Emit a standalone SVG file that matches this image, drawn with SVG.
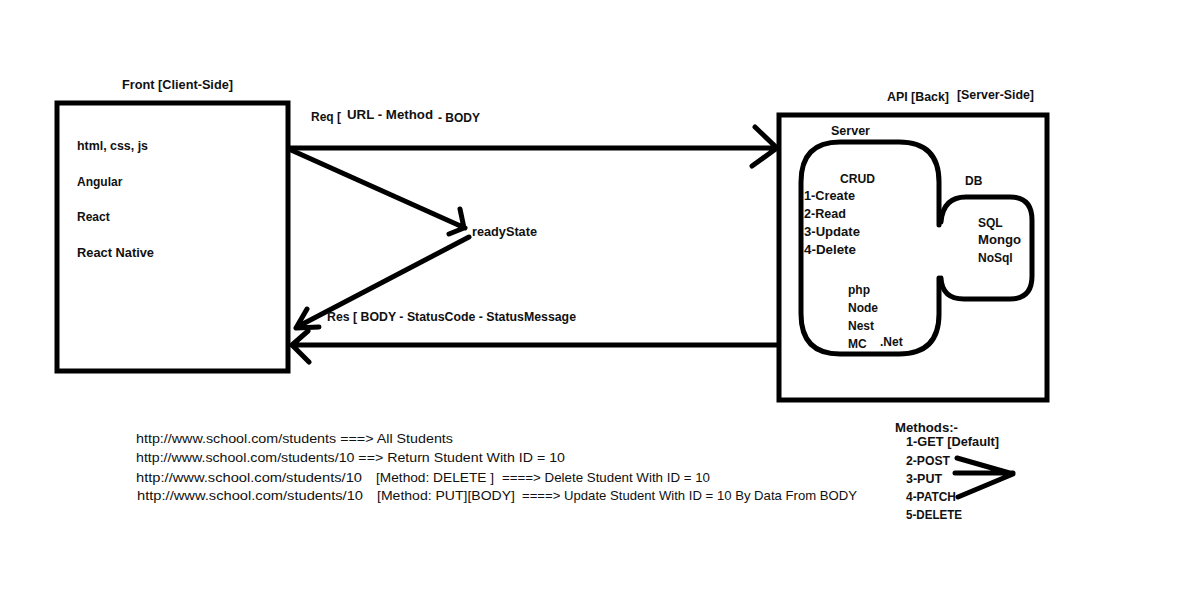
<svg xmlns="http://www.w3.org/2000/svg" width="1177" height="603" viewBox="0 0 1177 603">
<style>
.b{font-family:"Liberation Sans",Arial,sans-serif;font-size:12px;font-weight:bold;fill:#111}
.r{font-family:"Liberation Sans",Arial,sans-serif;font-size:13px;fill:#111}
.box{fill:none;stroke:#000;stroke-width:5}
.ln{fill:none;stroke:#000;stroke-width:5;stroke-linecap:round;stroke-linejoin:round}
</style>
<rect width="1177" height="603" fill="#fff"/>
<g id="front">
<rect class="box" x="57" y="103" width="231" height="268"/>
<text class="b" x="122" y="89" textLength="111" lengthAdjust="spacingAndGlyphs">Front [Client-Side]</text>
<text class="b" x="77" y="150" textLength="71" lengthAdjust="spacingAndGlyphs">html, css, js</text>
<text class="b" x="77" y="186">Angular</text>
<text class="b" x="77" y="221">React</text>
<text class="b" x="77" y="257" textLength="77" lengthAdjust="spacingAndGlyphs">React Native</text>
</g>
<g id="api">
<rect class="box" x="779" y="115" width="268" height="285"/>
<text class="b" x="887" y="101" textLength="62" lengthAdjust="spacingAndGlyphs">API [Back]</text>
<text class="b" x="957" y="99" textLength="77" lengthAdjust="spacingAndGlyphs">[Server-Side]</text>
</g>
<g id="server">
<path class="ln" d="M939 225 V182 Q939 142 899 142 H840 Q801 142 801 182 V314 Q801 354 840 354 H899 Q939 354 939 314 V278"/>
<text class="b" x="831" y="135" textLength="39" lengthAdjust="spacingAndGlyphs">Server</text>
<text class="b" x="840" y="183" textLength="35" lengthAdjust="spacingAndGlyphs">CRUD</text>
<text class="b" x="804" y="200" textLength="51" lengthAdjust="spacingAndGlyphs">1-Create</text>
<text class="b" x="804" y="218" textLength="42" lengthAdjust="spacingAndGlyphs">2-Read</text>
<text class="b" x="804" y="236" textLength="56" lengthAdjust="spacingAndGlyphs">3-Update</text>
<text class="b" x="804" y="254" textLength="52" lengthAdjust="spacingAndGlyphs">4-Delete</text>
<text class="b" x="848" y="294">php</text>
<text class="b" x="848" y="312">Node</text>
<text class="b" x="848" y="330">Nest</text>
<text class="b" x="848" y="348">MC</text>
<text class="b" x="880" y="346">.Net</text>
</g>
<g id="db">
<path class="ln" d="M941 222 Q943 197 966 197 H1010 Q1032 197 1032 220 V276 Q1032 299 1010 299 H964 Q942 299 941 278"/>
<text class="b" x="965" y="185">DB</text>
<text class="b" x="978" y="227">SQL</text>
<text class="b" x="978" y="244" textLength="43" lengthAdjust="spacingAndGlyphs">Mongo</text>
<text class="b" x="978" y="262">NoSql</text>
</g>
<g id="connectors">
<path class="ln" d="M290 148 H777 M755 127 L777 148 L752 166"/>
<path class="ln" d="M291 150 L465 228 M460 209 L464 228 L449 234"/>
<path class="ln" d="M469 237 L297 327 M307 309 L296 328 L319 327"/>
<path class="ln" d="M778 345 H292 M308 331 L292 345 L309 362"/>
<path class="ln" d="M957 458 L1013 474 L958 497 M955 473 H1013"/>
</g>
<g id="labels">
<text class="b" x="311" y="121">Req [</text>
<text class="b" x="347" y="119" textLength="86" lengthAdjust="spacingAndGlyphs">URL  - Method</text>
<text class="b" x="438" y="122" textLength="42" lengthAdjust="spacingAndGlyphs">- BODY</text>
<text class="b" x="472" y="236" textLength="65" lengthAdjust="spacingAndGlyphs">readyState</text>
<text class="b" x="327" y="321" textLength="249" lengthAdjust="spacingAndGlyphs">Res [ BODY - StatusCode - StatusMessage</text>
</g>
<g id="urls">
<text class="r" x="136" y="443" textLength="317" lengthAdjust="spacingAndGlyphs">http://www.school.com/students  ===&gt; All Students</text>
<text class="r" x="136" y="462" textLength="429" lengthAdjust="spacingAndGlyphs">http://www.school.com/students/10  ==&gt; Return Student With ID = 10</text>
<text class="r" x="136" y="482" textLength="226" lengthAdjust="spacingAndGlyphs">http://www.school.com/students/10</text>
<text class="r" x="376" y="482" textLength="118" lengthAdjust="spacingAndGlyphs">[Method:  DELETE  ]</text>
<text class="r" x="502" y="482" textLength="208" lengthAdjust="spacingAndGlyphs">====&gt; Delete Student With ID = 10</text>
<text class="r" x="137" y="500" textLength="226" lengthAdjust="spacingAndGlyphs">http://www.school.com/students/10</text>
<text class="r" x="377" y="500" textLength="138" lengthAdjust="spacingAndGlyphs">[Method:  PUT][BODY]</text>
<text class="r" x="522" y="500" textLength="335" lengthAdjust="spacingAndGlyphs">====&gt; Update Student With ID = 10 By Data From BODY</text>
</g>
<g id="methods">
<text class="b" x="895" y="432" textLength="63" lengthAdjust="spacingAndGlyphs">Methods:-</text>
<text class="b" x="906" y="446" textLength="93" lengthAdjust="spacingAndGlyphs">1-GET [Default]</text>
<text class="b" x="906" y="465" textLength="44" lengthAdjust="spacingAndGlyphs">2-POST</text>
<text class="b" x="906" y="483" textLength="36" lengthAdjust="spacingAndGlyphs">3-PUT</text>
<text class="b" x="906" y="501" textLength="50" lengthAdjust="spacingAndGlyphs">4-PATCH</text>
<text class="b" x="906" y="519" textLength="56" lengthAdjust="spacingAndGlyphs">5-DELETE</text>
</g>
</svg>
